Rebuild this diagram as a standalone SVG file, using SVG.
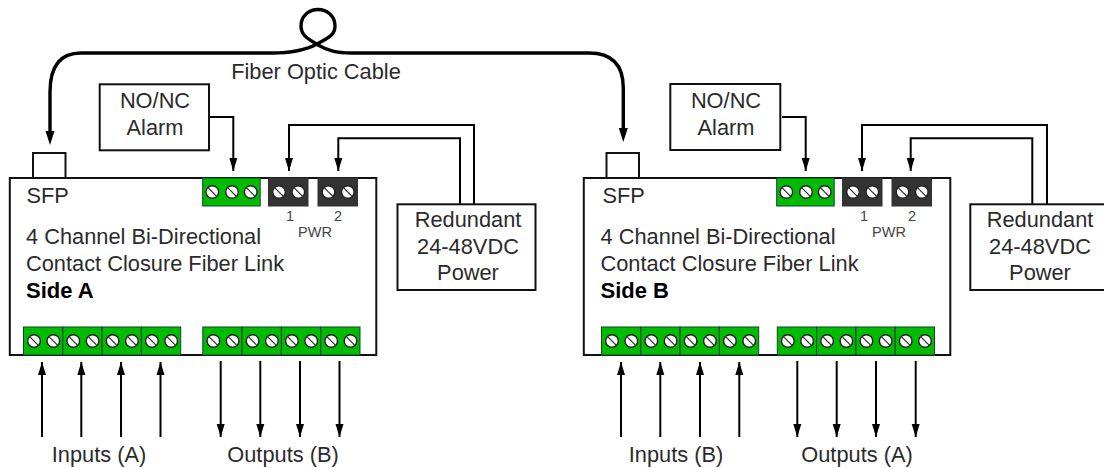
<svg xmlns="http://www.w3.org/2000/svg" xmlns:xlink="http://www.w3.org/1999/xlink" width="1104" height="468" viewBox="0 0 1104 468">
<style>
text{font-family:"Liberation Sans",Arial,sans-serif;fill:#2b2b2b;font-size:21.8px}
.m{text-anchor:middle}
.b{font-weight:700;fill:#000;font-size:22px}
.s{font-size:14.5px;fill:#444}
.box{fill:#fff;stroke:#111;stroke-width:2}
.g{fill:#00bb00;stroke:#143;stroke-width:1}
.k{fill:#333;stroke:#333;stroke-width:1}
.a{fill:none;stroke:#000;stroke-width:2;marker-end:url(#ah)}
.f{fill:none;stroke:#000;stroke-width:3.4;stroke-linejoin:round}
.sc{fill:#fff;stroke:#222;stroke-width:1.4}
</style>
<defs>
<marker id="ah" markerUnits="userSpaceOnUse" markerWidth="13" markerHeight="9" refX="13" refY="4.500" orient="auto" viewBox="0 0 13 9"><path d="M0 0.500L13 4.500L0 8.500Z" fill="#000"/></marker>
<g id="screw"><circle r="6.300" class="sc"/><path d="M-4.600-4.600L4.600 4.600" stroke="#333" stroke-width="1.300"/></g>
<g id="t2"><use xlink:href="#screw" href="#screw" x="10.500" y="14.500"/><use xlink:href="#screw" href="#screw" x="29.800" y="14.500"/></g>
</defs>

<g id="connectors">
<path class="f" d="M50 132V92Q50 53 81 53H272C292 53 306 50 317 44C327 38 335 36 335 26C335 16 327 9.500 318 9.500C309 9.500 301 16 301 26C301 36 309 39 318 45C327 50 335 53 352 53H589Q623.300 53 623.300 88V128"/>
<path d="M50 145L45.500 131H54.500Z M623.300 142L618.800 128H627.800Z"/>
<path class="a" d="M209 117H233.300V171"/>
<path class="a" d="M474 204V125H289V171"/>
<path class="a" d="M460 204V138.300H338.300V171"/>
<path class="a" d="M782 117H805.700V171"/>
<path class="a" d="M1047 204V125H862V171"/>
<path class="a" d="M1032.300 204V138.300H910.700V171"/>
<path class="a" d="M42 437V362"/><path class="a" d="M81.300 437V362"/><path class="a" d="M121 437V362"/><path class="a" d="M160.500 437V362"/>
<path class="a" d="M220.700 361V437"/><path class="a" d="M260.300 361V437"/><path class="a" d="M300 361V437"/><path class="a" d="M339.500 361V437"/>
<path class="a" d="M621 437V362"/><path class="a" d="M660.300 437V362"/><path class="a" d="M700 437V362"/><path class="a" d="M739.300 437V362"/>
<path class="a" d="M797.300 361V437"/><path class="a" d="M836.700 361V437"/><path class="a" d="M876 361V437"/><path class="a" d="M915.700 361V437"/>
</g>

<g id="side-a">
<rect class="box" x="33" y="153" width="32.500" height="25"/>
<rect class="box" x="9.800" y="178" width="366.500" height="177"/>
<text x="26.500" y="203">SFP</text>
<text x="26" y="244">4 Channel Bi-Directional</text>
<text x="26" y="271">Contact Closure Fiber Link</text>
<text class="b" x="26" y="297.500">Side A</text>
</g>
<g id="alarm-terminal-a">
<rect class="g" x="202.700" y="178" width="57.500" height="28"/>
<use xlink:href="#screw" href="#screw" x="212.300" y="192"/><use xlink:href="#screw" href="#screw" x="232" y="192"/><use xlink:href="#screw" href="#screw" x="250.700" y="192"/>
</g>
<g id="pwr-a">
<rect class="k" x="268.500" y="178" width="39.500" height="28"/><use xlink:href="#t2" href="#t2" x="268.500" y="177.500"/>
<rect class="k" x="318" y="178" width="39.500" height="28"/><use xlink:href="#t2" href="#t2" x="318" y="177.500"/>
<text class="s m" x="290" y="221">1</text><text class="s m" x="338" y="221">2</text><text class="s m" x="315" y="237">PWR</text>
</g>
<g id="inputs-a">
<rect class="g" x="23.500" y="327" width="39.300" height="28"/><use xlink:href="#t2" href="#t2" x="23.500" y="326.500"/>
<rect class="g" x="62.800" y="327" width="39.300" height="28"/><use xlink:href="#t2" href="#t2" x="62.800" y="326.500"/>
<rect class="g" x="102.100" y="327" width="39.300" height="28"/><use xlink:href="#t2" href="#t2" x="102.100" y="326.500"/>
<rect class="g" x="141.400" y="327" width="39.300" height="28"/><use xlink:href="#t2" href="#t2" x="141.400" y="326.500"/>
<text class="m" x="99" y="462">Inputs (A)</text>
</g>
<g id="outputs-a">
<rect class="g" x="202.800" y="327" width="39.300" height="28"/><use xlink:href="#t2" href="#t2" x="202.800" y="326.500"/>
<rect class="g" x="242.100" y="327" width="39.300" height="28"/><use xlink:href="#t2" href="#t2" x="242.100" y="326.500"/>
<rect class="g" x="281.400" y="327" width="39.300" height="28"/><use xlink:href="#t2" href="#t2" x="281.400" y="326.500"/>
<rect class="g" x="320.700" y="327" width="39.300" height="28"/><use xlink:href="#t2" href="#t2" x="320.700" y="326.500"/>
<text class="m" x="283" y="462">Outputs (B)</text>
</g>
<g id="alarm-a">
<rect class="box" x="99.700" y="84.300" width="109.300" height="66"/>
<text class="m" x="155" y="108">NO/NC</text><text class="m" x="155" y="134.500">Alarm</text>
</g>
<g id="power-a">
<rect class="box" x="397.500" y="204.300" width="138" height="85.700"/>
<text class="m" x="468" y="226.500">Redundant</text><text class="m" x="468" y="254">24-48VDC</text><text class="m" x="468" y="280">Power</text>
</g>
<g id="fiber-label"><text class="m" x="316" y="79">Fiber Optic Cable</text></g>

<g id="side-b">
<rect class="box" x="606.500" y="153" width="32.500" height="25"/>
<rect class="box" x="583.800" y="178" width="366.500" height="177"/>
<text x="602.500" y="203">SFP</text>
<text x="600.500" y="244">4 Channel Bi-Directional</text>
<text x="600.500" y="271">Contact Closure Fiber Link</text>
<text class="b" x="600.500" y="297.500">Side B</text>
</g>
<g id="alarm-terminal-b">
<rect class="g" x="776.700" y="178" width="57.500" height="28"/>
<use xlink:href="#screw" href="#screw" x="786.300" y="192"/><use xlink:href="#screw" href="#screw" x="806" y="192"/><use xlink:href="#screw" href="#screw" x="824.700" y="192"/>
</g>
<g id="pwr-b">
<rect class="k" x="842.500" y="178" width="39.500" height="28"/><use xlink:href="#t2" href="#t2" x="842.500" y="177.500"/>
<rect class="k" x="892" y="178" width="39.500" height="28"/><use xlink:href="#t2" href="#t2" x="892" y="177.500"/>
<text class="s m" x="864" y="221">1</text><text class="s m" x="912" y="221">2</text><text class="s m" x="889" y="237">PWR</text>
</g>
<g id="inputs-b">
<rect class="g" x="601.500" y="327" width="39.300" height="28"/><use xlink:href="#t2" href="#t2" x="601.500" y="326.500"/>
<rect class="g" x="640.800" y="327" width="39.300" height="28"/><use xlink:href="#t2" href="#t2" x="640.800" y="326.500"/>
<rect class="g" x="680.100" y="327" width="39.300" height="28"/><use xlink:href="#t2" href="#t2" x="680.100" y="326.500"/>
<rect class="g" x="719.400" y="327" width="39.300" height="28"/><use xlink:href="#t2" href="#t2" x="719.400" y="326.500"/>
<text class="m" x="676" y="462">Inputs (B)</text>
</g>
<g id="outputs-b">
<rect class="g" x="777.300" y="327" width="39.300" height="28"/><use xlink:href="#t2" href="#t2" x="777.300" y="326.500"/>
<rect class="g" x="816.600" y="327" width="39.300" height="28"/><use xlink:href="#t2" href="#t2" x="816.600" y="326.500"/>
<rect class="g" x="855.900" y="327" width="39.300" height="28"/><use xlink:href="#t2" href="#t2" x="855.900" y="326.500"/>
<rect class="g" x="895.200" y="327" width="39.300" height="28"/><use xlink:href="#t2" href="#t2" x="895.200" y="326.500"/>
<text class="m" x="857" y="462">Outputs (A)</text>
</g>
<g id="alarm-b">
<rect class="box" x="670.300" y="84" width="110" height="66"/>
<text class="m" x="726" y="108">NO/NC</text><text class="m" x="726" y="134.500">Alarm</text>
</g>
<g id="power-b">
<rect class="box" x="970.300" y="204.300" width="138" height="85.700"/>
<text class="m" x="1040" y="226.500">Redundant</text><text class="m" x="1040" y="254">24-48VDC</text><text class="m" x="1040" y="280">Power</text>
</g>
</svg>
